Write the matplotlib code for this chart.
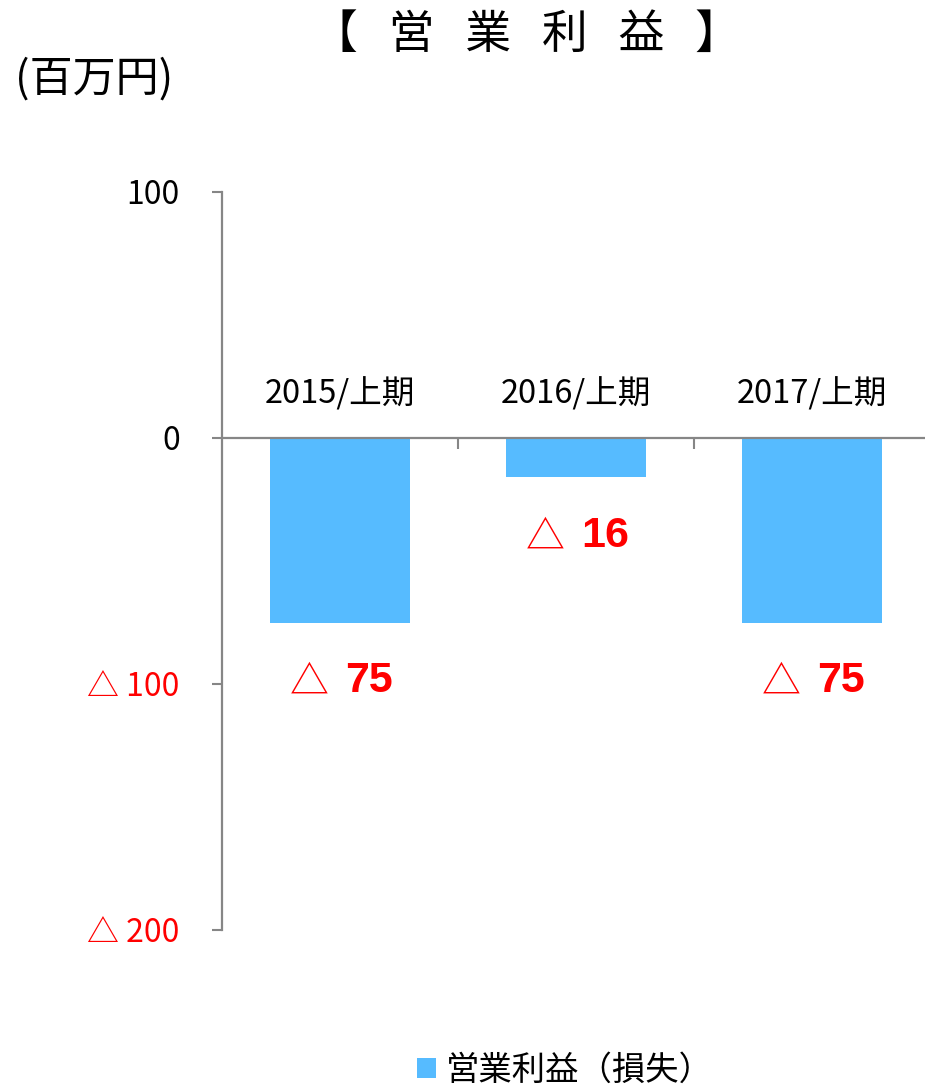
# operating_profit_chart.py
# 営業利益 bar chart (half-year, million yen) -> out.png

import matplotlib
matplotlib.use("Agg")
import matplotlib.pyplot as plt

plt.rcParams["font.family"] = ["Noto Sans CJK JP", "DejaVu Sans"]

# ----------------------------
# Data
# ----------------------------
CATEGORIES = ["2015/上期", "2016/上期", "2017/上期"]
OPERATING_PROFIT = [-75, -16, -75]
Y_TICKS = [100, 0, -100, -200]

TITLE = "【   営   業   利   益   】"
UNIT_LABEL = "(百万円)"
SERIES_NAME = "営業利益（損失）"

# ----------------------------
# Style
# ----------------------------
BAR_COLOR = "#56BBFF"
AXIS_COLOR = "#868686"
NEG_COLOR = "#FF0000"
NUM_FONT = ["Liberation Sans", "DejaVu Sans"]

W, H = 925, 1087


def fmt_tick(v):
    return f"△ {abs(v):g}" if v < 0 else f"{v:g}"


fig = plt.figure(figsize=(W / 100, H / 100), dpi=100)
ax = fig.add_axes([222 / W, 1 - 930 / H, 708 / W, 738 / H])

x = list(range(len(CATEGORIES)))
ax.bar(x, OPERATING_PROFIT, width=0.59, color=BAR_COLOR, zorder=2, label=SERIES_NAME)

ax.set_xlim(-0.5, len(CATEGORIES) - 0.5)
ax.set_ylim(min(Y_TICKS), max(Y_TICKS))

# spines: left axis + zero line as bottom spine
for side in ("top", "right"):
    ax.spines[side].set_visible(False)
ax.spines["left"].set_color(AXIS_COLOR)
ax.spines["left"].set_linewidth(1.6)
ax.spines["bottom"].set_position(("data", 0))
ax.spines["bottom"].set_color(AXIS_COLOR)
ax.spines["bottom"].set_linewidth(1.6)
ax.spines["bottom"].set_zorder(3)

# y ticks
ax.set_yticks(Y_TICKS)
ax.set_yticklabels([fmt_tick(v) for v in Y_TICKS])
ax.tick_params(axis="y", length=7.5, width=1.5, color=AXIS_COLOR, pad=23, labelsize=23)
for lab, v in zip(ax.get_yticklabels(), Y_TICKS):
    lab.set_color(NEG_COLOR if v < 0 else "black")

# x ticks at category boundaries, labels drawn above the zero line
ax.set_xticks([i + 0.5 for i in x[:-1]])
ax.set_xticklabels([])
ax.tick_params(axis="x", length=8, width=1.5, color=AXIS_COLOR, direction="out")

for i, cat in zip(x, CATEGORIES):
    ax.annotate(cat, xy=(i, 0), xytext=(0, 32), textcoords="offset points",
                ha="center", va="center", fontsize=23.5)

# data labels: thin triangle + bold number
for i, v in zip(x, OPERATING_PROFIT):
    if v < 0:
        ax.annotate("△", xy=(i, v), xytext=(-8, -43), textcoords="offset points",
                    ha="right", va="center", fontsize=28, color=NEG_COLOR)
        ax.annotate(f"{abs(v):g}", xy=(i, v), xytext=(4, -42), textcoords="offset points",
                    ha="left", va="center", fontsize=31, color=NEG_COLOR,
                    fontweight="bold", family=NUM_FONT)
    else:
        ax.annotate(f"{v:g}", xy=(i, v), xytext=(0, 43), textcoords="offset points",
                    ha="center", va="center", fontsize=31, fontweight="bold",
                    family=NUM_FONT)

# titles
fig.text(527 / W, 1 - 35 / H, TITLE, ha="center", va="center", fontsize=33)
fig.text(15 / W, 1 - 80 / H, UNIT_LABEL, ha="left", va="center", fontsize=31)

# legend at the bottom edge
fig.legend(loc="center", bbox_to_anchor=(565 / W, 17 / H), frameon=False, fontsize=24,
           handlelength=0.55, handleheight=0.55, handletextpad=0.3, borderaxespad=0,
           borderpad=0)

fig.savefig("out.png", dpi=100)
